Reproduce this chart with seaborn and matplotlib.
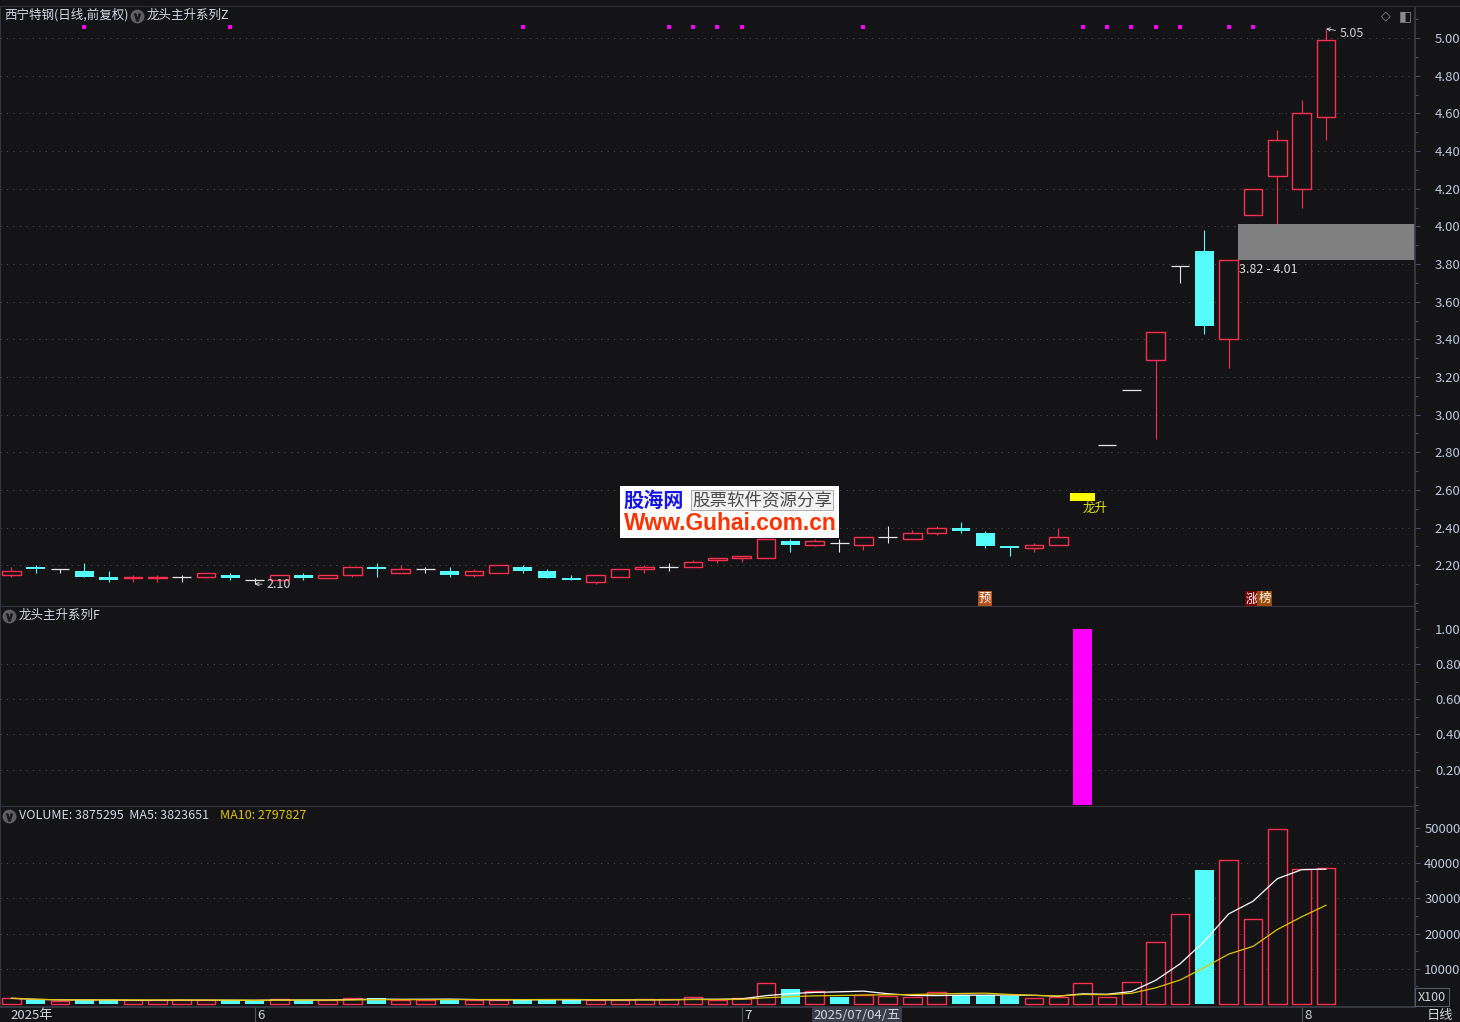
import numpy as np
import pandas as pd
import matplotlib
matplotlib.use("Agg")
import matplotlib.pyplot as plt
import matplotlib.transforms as mtransforms
from matplotlib.patches import Rectangle
from matplotlib.lines import Line2D
from matplotlib.ticker import MultipleLocator
import seaborn as sns

# ---------------- data ----------------
opens = [2.15, 2.19, 2.18, 2.17, 2.14, 2.13, 2.13, 2.14, 2.14, 2.15,
         2.12, 2.12, 2.15, 2.13, 2.15, 2.19, 2.16, 2.18, 2.17, 2.15,
         2.16, 2.19, 2.17, 2.13, 2.11, 2.14, 2.18, 2.19, 2.19, 2.23,
         2.24, 2.24, 2.33, 2.31, 2.32, 2.31, 2.35, 2.34, 2.37, 2.40,
         2.37, 2.30, 2.29, 2.31, 2.58, 2.84, 3.13, 3.29, 3.79, 3.87,
         3.40, 4.06, 4.27, 4.20, 4.58]
highs = [2.19, 2.20, 2.18, 2.21, 2.17, 2.15, 2.15, 2.15, 2.16, 2.16,
         2.13, 2.15, 2.16, 2.15, 2.19, 2.21, 2.20, 2.19, 2.19, 2.18,
         2.20, 2.20, 2.18, 2.15, 2.15, 2.18, 2.20, 2.21, 2.23, 2.24,
         2.25, 2.34, 2.34, 2.34, 2.34, 2.35, 2.41, 2.39, 2.41, 2.43,
         2.38, 2.30, 2.32, 2.40, 2.58, 2.84, 3.13, 3.44, 3.79, 3.98,
         3.82, 4.20, 4.51, 4.67, 5.05]
lows = [2.14, 2.16, 2.16, 2.14, 2.11, 2.11, 2.11, 2.11, 2.13, 2.12,
        2.10, 2.12, 2.12, 2.13, 2.14, 2.14, 2.16, 2.16, 2.14, 2.14,
        2.16, 2.16, 2.13, 2.12, 2.10, 2.14, 2.16, 2.17, 2.19, 2.21,
        2.22, 2.24, 2.27, 2.30, 2.27, 2.28, 2.32, 2.34, 2.36, 2.37,
        2.29, 2.25, 2.27, 2.31, 2.58, 2.84, 3.13, 2.87, 3.70, 3.43,
        3.25, 4.06, 4.01, 4.10, 4.46]
closes = [2.17, 2.18, 2.18, 2.14, 2.12, 2.14, 2.14, 2.14, 2.16, 2.13,
          2.12, 2.15, 2.13, 2.15, 2.19, 2.18, 2.18, 2.18, 2.15, 2.17,
          2.20, 2.17, 2.13, 2.12, 2.15, 2.18, 2.19, 2.19, 2.22, 2.24,
          2.25, 2.34, 2.31, 2.33, 2.32, 2.35, 2.35, 2.37, 2.40, 2.38,
          2.30, 2.29, 2.31, 2.35, 2.58, 2.84, 3.13, 3.44, 3.79, 3.47,
          3.82, 4.20, 4.46, 4.60, 4.99]
volumes = [1620, 1050, 850, 1140, 1140, 1140, 1050, 1050, 1050, 1050,
           1050, 1420, 1050, 1050, 1700, 1700, 1140, 1140, 1230, 1140,
           1200, 1140, 1330, 1140, 1140, 1050, 1330, 1330, 1890, 1140,
           1610, 5870, 4260, 3600, 1990, 2560, 2180, 1900, 3320, 2560,
           2560, 2270, 1620, 2070, 5960, 1900, 6160, 17520, 25470, 38060,
           40810, 24140, 49610, 38250, 38753]
signal = [0, 0, 0, 0, 0, 0, 0, 0, 0, 0,
          0, 0, 0, 0, 0, 0, 0, 0, 0, 0,
          0, 0, 0, 0, 0, 0, 0, 0, 0, 0,
          0, 0, 0, 0, 0, 0, 0, 0, 0, 0,
          0, 0, 0, 0, 1, 0, 0, 0, 0, 0,
          0, 0, 0, 0, 0]
dot_days = [3, 9, 21, 27, 28, 29, 30, 35, 44, 45, 46, 47, 48, 50, 51]
month_days = [10, 30, 53]
month_labels = ["6", "7", "8"]
year_label = "2025年"
cursor_day = 33
cursor_label = "2025/07/04/五"
gap_low, gap_high = 3.82, 4.01
gap_day = 50
tag_yu_day = 40
tag_zb_day = 51
price_ticks = [2.20, 2.40, 2.60, 2.80, 3.00, 3.20, 3.40, 3.60, 3.80, 4.00,
               4.20, 4.40, 4.60, 4.80, 5.00]
ind_ticks = [0.20, 0.40, 0.60, 0.80, 1.00]
vol_ticks = [10000, 20000, 30000, 40000, 50000]
title_main = "西宁特钢(日线,前复权)"
title_z = "龙头主升系列Z"
title_f = "龙头主升系列F"
vol_title = "VOLUME: 3875295  MA5: 3823651"
vol_ma10_title = "MA10: 2797827"

# ---------------- style ----------------
BG = "#141316"
RED = "#ff2e4e"
CYAN = "#54fcfc"
DOJI = "#e6e6e6"
MAG = "#ff00ff"
YEL = "#e0c400"
GRID = "#45454a"
AXC = "#3b3e48"
TXT = "#bcc8dc"
TXT2 = "#d2d6de"

sns.set_theme(style="dark", rc={"axes.facecolor": BG, "figure.facecolor": BG,
                                "savefig.facecolor": BG})
plt.rcParams["font.family"] = ["Noto Sans CJK SC", "DejaVu Sans"]

W, H = 1460, 1022
fig = plt.figure(figsize=(W / 100, H / 100), dpi=100)


def fx(px):
    return px / W


def fy(py):
    return 1 - py / H


def rect(top, bot):
    return [0.0, 1 - bot / H, 1414.5 / W, (bot - top) / H]


ax_p = fig.add_axes(rect(8, 607))
ax_i = fig.add_axes(rect(607, 807))
ax_v = fig.add_axes(rect(807, 1007))

X0, X1 = -0.464, 57.63
n = len(closes)
x = np.arange(n)
O = np.array(opens); Hh = np.array(highs); L = np.array(lows); C = np.array(closes)
V = np.array(volumes, dtype=float)
bw = 0.77


def style_axis(ax, ticks, labels, minor, grid_ticks, ylim):
    ax.set_facecolor(BG)
    ax.set_xlim(X0, X1)
    ax.set_ylim(*ylim)
    ax.yaxis.tick_right()
    ax.set_yticks(ticks)
    ax.set_yticklabels(labels)
    ax.yaxis.set_minor_locator(MultipleLocator(minor))
    ax.tick_params(axis="y", which="major", length=3.6, width=0.8, color="#4a4e58",
                   labelcolor=TXT, labelsize=9.5, pad=29.6, direction="out",
                   right=True, left=False)
    ax.tick_params(axis="y", which="minor", length=2.0, width=0.8, color="#4a4e58",
                   right=True, left=False)
    for lab in ax.get_yticklabels():
        lab.set_horizontalalignment("right")
    ax.set_xticks([])
    ax.set_xlabel("")
    ax.set_ylabel("")
    for t in grid_ticks:
        ax.axhline(t, color=GRID, lw=0.75, ls=(0, (1.2, 5)), zorder=1)
    ax.spines["top"].set_visible(False)
    for s in ["right", "bottom", "left"]:
        ax.spines[s].set_visible(True)
        ax.spines[s].set_color(AXC)
        ax.spines[s].set_linewidth(1.2)


# ---------------- price panel ----------------
up = C > O
dn = C < O
fl = C == O
ax_p.vlines(x[up], C[up], Hh[up], color=RED, lw=0.8, zorder=3)
ax_p.vlines(x[up], L[up], O[up], color=RED, lw=0.8, zorder=3)
ax_p.bar(x[up], (C - O)[up], bottom=O[up], width=bw, facecolor=BG, edgecolor=RED,
         linewidth=1.0, zorder=4)
ax_p.vlines(x[dn], L[dn], Hh[dn], color=CYAN, lw=0.8, zorder=3)
ax_p.bar(x[dn], (O - C)[dn], bottom=C[dn], width=bw, color=CYAN, linewidth=0, zorder=4)
ax_p.vlines(x[fl], L[fl], Hh[fl], color=DOJI, lw=0.8, zorder=3)
ax_p.hlines(C[fl], x[fl] - bw / 2, x[fl] + bw / 2, color=DOJI, lw=0.9, zorder=4)

style_axis(ax_p, price_ticks, [f"{t:.2f}" for t in price_ticks], 0.1, price_ticks,
           (1.9785, 5.1597))

# gap zone
gx = gap_day + bw / 2
ax_p.fill_between([gx, X1], gap_low, gap_high, color="#808080", lw=0, zorder=2)
ax_p.text(gx + 0.05, gap_low - 0.012, f"{gap_low:.2f} - {gap_high:.2f}", ha="left",
          va="top", color="#dcdcdc", fontsize=9, zorder=6)

# signal box and text
sig_i = signal.index(1)
ax_p.bar(sig_i, 0.04, bottom=C[sig_i] - 0.036, width=1.03, color="#ffff00", lw=0, zorder=6)
ax_p.text(sig_i - 0.02, C[sig_i] - 0.076, "龙升", color="#e6e600", fontsize=9,
          ha="left", va="center", zorder=6)

# magenta dots
tr_p = mtransforms.blended_transform_factory(ax_p.transData, ax_p.transAxes)
ax_p.scatter(dot_days, [0.9683] * len(dot_days), marker="s", s=7, color=MAG,
             linewidths=0, transform=tr_p, zorder=6, clip_on=False)

# min / max marks
lo_i = int(np.argmin(L))
hi_i = int(np.argmax(Hh))
ax_p.annotate(f"{L[lo_i]:.2f}", xy=(lo_i, L[lo_i]), xytext=(12, 0),
              textcoords="offset pixels", ha="left", va="center", color="#cfcfcf",
              fontsize=9, zorder=7,
              arrowprops=dict(arrowstyle="->", color="#d8d8d8", lw=0.6, shrinkA=1,
                              shrinkB=0, mutation_scale=6))
ax_p.annotate(f"{Hh[hi_i]:.2f}", xy=(hi_i, Hh[hi_i]), xytext=(14, -5),
              textcoords="offset pixels", ha="left", va="center", color="#cfcfcf",
              fontsize=9, zorder=7,
              arrowprops=dict(arrowstyle="->", color="#d8d8d8", lw=0.6, shrinkA=1,
                              shrinkB=0, mutation_scale=6))

# tags at the bottom of the price panel
ax_p.text(tag_yu_day, 0.0135, "预", transform=tr_p, ha="center", va="center",
          color="white", fontsize=9, zorder=7,
          bbox=dict(boxstyle="square,pad=0.08", fc="#b4501c", ec="none"))
ax_p.text(tag_zb_day + 0.22, 0.0135, "涨", transform=tr_p, ha="right", va="center",
          color="white", fontsize=9, zorder=7,
          bbox=dict(boxstyle="square,pad=0.08", fc="#7a0008", ec="none"))
ax_p.text(tag_zb_day + 0.22, 0.0135, "榜", transform=tr_p, ha="left", va="center",
          color="white", fontsize=9, zorder=7,
          bbox=dict(boxstyle="square,pad=0.08", fc="#9a4c08", ec="none"))

# ---------------- indicator panel ----------------
sns.barplot(x=x, y=signal, native_scale=True, width=0.78, color=MAG, saturation=1,
            errorbar=None, ax=ax_i, zorder=3, linewidth=0)
style_axis(ax_i, ind_ticks, [f"{t:.2f}" for t in ind_ticks], 0.1, ind_ticks[:-1],
           (-0.0131, 1.125))

# ---------------- volume panel ----------------
prev_c = np.r_[C[0], C[:-1]]
vup = (C > O) | ((C == O) & (C >= prev_c))
ax_v.bar(x[vup], V[vup], width=bw, facecolor=BG, edgecolor=RED, linewidth=1.0, zorder=3)
ax_v.bar(x[~vup], V[~vup], width=bw, color=CYAN, linewidth=0, zorder=3)
ma5 = pd.Series(V).rolling(5, min_periods=1).mean().values
ma10 = pd.Series(V).rolling(10, min_periods=1).mean().values
sns.lineplot(x=x, y=ma5, ax=ax_v, color="white", lw=0.9, zorder=5)
sns.lineplot(x=x, y=ma10, ax=ax_v, color=YEL, lw=0.9, zorder=5)
style_axis(ax_v, vol_ticks, [f"{t}" for t in vol_ticks], 5000, vol_ticks[:-1],
           (-852, 55966))

# date strip
tr_v = mtransforms.blended_transform_factory(ax_v.transData, ax_v.transAxes)
ax_v.text(-0.05, -0.04, year_label, transform=tr_v, ha="left", va="center",
          color=TXT2, fontsize=9.5)
for d, lab in zip(month_days, month_labels):
    ax_v.plot([d, d], [0, -0.08], transform=tr_v, color="#50545e", lw=0.8, clip_on=False)
    ax_v.text(d + 0.1, -0.04, lab, transform=tr_v, ha="left", va="center",
              color=TXT2, fontsize=9.5)
ax_v.text(cursor_day - 0.05, -0.04, cursor_label, transform=tr_v, ha="left",
          va="center", color=TXT2, fontsize=9.5,
          bbox=dict(boxstyle="square,pad=0.12", fc="#3a3e4a", ec="none"))

# ---------------- header texts ----------------
def icon(px, py):
    fig.add_artist(Line2D([fx(px)], [fy(py)], marker="o", markersize=9,
                          color="#5f5f62", transform=fig.transFigure, zorder=10))
    fig.add_artist(Line2D([fx(px)], [fy(py) - 0.0005], marker=r"$\vee$", markersize=5,
                          color="#1a1a1a", transform=fig.transFigure, zorder=11))


fig.text(fx(4), fy(15), title_main, color="#d2d8e4", fontsize=9, va="center", ha="left")
icon(137, 16)
fig.text(fx(147), fy(15), title_z, color="#d2d8e4", fontsize=9, va="center", ha="left")
icon(9, 616)
fig.text(fx(19), fy(615), title_f, color="#d2d8e4", fontsize=9, va="center", ha="left")
icon(9, 816)
fig.text(fx(19), fy(815), vol_title, color="#d2d8e4", fontsize=9, va="center", ha="left")
fig.text(fx(220), fy(815), vol_ma10_title, color=YEL, fontsize=9, va="center", ha="left")

fig.text(fx(1386), fy(16), "◇", color="#8a8a8a", fontsize=9, va="center", ha="center",
         family=["DejaVu Sans"])
fig.text(fx(1405), fy(16), "◧", color="#8a8a8a", fontsize=10, va="center", ha="center",
         family=["DejaVu Sans"])
fig.add_artist(Line2D([0, 1], [fy(6.5), fy(6.5)], color="#2c2c30", lw=1,
                      transform=fig.transFigure))

fig.text(fx(1432), fy(997), "X100", color=TXT2, fontsize=9, va="center", ha="center",
         bbox=dict(boxstyle="square,pad=0.2", fc=BG, ec="#555a66", lw=0.8))
fig.text(fx(1440), fy(1015), "日线", color=TXT2, fontsize=9.5, va="center", ha="center")

# ---------------- watermark ----------------
fig.add_artist(Rectangle((fx(620), fy(538)), fx(839) - fx(620), fy(486) - fy(538),
                         transform=fig.transFigure, fc="white", ec="none", zorder=20))
fig.text(fx(623), fy(500), "股海网", color="#1414e6", fontsize=14.5, fontweight="bold",
         va="center", ha="left", zorder=21)
fig.text(fx(692), fy(500), "股票软件资源分享", color="#4a4a4a", fontsize=12.6,
         va="center", ha="left", zorder=21,
         bbox=dict(boxstyle="square,pad=0.04", fc="#f2f2f2", ec="#a0a0a0", lw=0.6))
fig.text(fx(730), fy(523), "Www.Guhai.com.cn", color="#ff3300", fontsize=16.4,
         fontweight="bold", va="center", ha="center", family=["Liberation Sans"],
         zorder=21)

fig.savefig("out.png", dpi=100, facecolor=BG)
